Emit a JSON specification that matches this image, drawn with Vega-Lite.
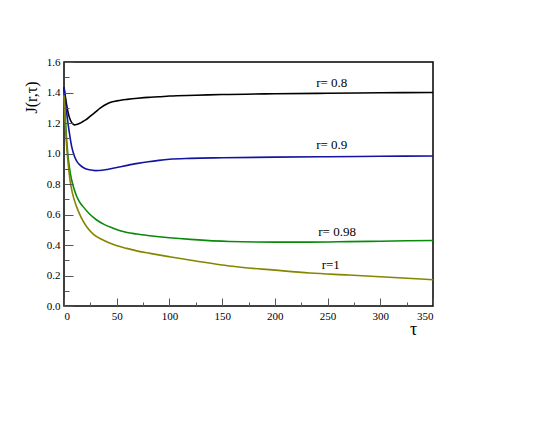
{
  "$schema": "https://vega.github.io/schema/vega-lite/v6.json",
  "width": 369,
  "height": 244,
  "autosize": {"type": "none"},
  "padding": {"left": 64, "top": 62, "right": 121, "bottom": 125},
  "background": "white",
  "config": {
    "view": {"stroke": "black", "strokeWidth": 1.5, "fill": null},
    "font": "Times New Roman, Liberation Serif, serif"
  },
  "resolve": {"axis": {"x": "independent", "y": "independent"}},
  "layer": [
    {
      "data": {
        "values": [
          {"tau": 0, "J": 1.435, "r": "0.8"}, {"tau": 2, "J": 1.34, "r": "0.8"}, {"tau": 4, "J": 1.265, "r": "0.8"}, {"tau": 6, "J": 1.22, "r": "0.8"}, {"tau": 8, "J": 1.197, "r": "0.8"}, {"tau": 10, "J": 1.188, "r": "0.8"}, {"tau": 12, "J": 1.19, "r": "0.8"}, {"tau": 15, "J": 1.198, "r": "0.8"}, {"tau": 18, "J": 1.21, "r": "0.8"}, {"tau": 21, "J": 1.222, "r": "0.8"}, {"tau": 25, "J": 1.245, "r": "0.8"}, {"tau": 30, "J": 1.273, "r": "0.8"}, {"tau": 34, "J": 1.296, "r": "0.8"}, {"tau": 38, "J": 1.315, "r": "0.8"}, {"tau": 42, "J": 1.33, "r": "0.8"}, {"tau": 46, "J": 1.339, "r": "0.8"}, {"tau": 50, "J": 1.345, "r": "0.8"}, {"tau": 55, "J": 1.351, "r": "0.8"}, {"tau": 60, "J": 1.355, "r": "0.8"}, {"tau": 70, "J": 1.362, "r": "0.8"}, {"tau": 80, "J": 1.368, "r": "0.8"}, {"tau": 90, "J": 1.372, "r": "0.8"}, {"tau": 100, "J": 1.377, "r": "0.8"}, {"tau": 125, "J": 1.382, "r": "0.8"}, {"tau": 150, "J": 1.387, "r": "0.8"}, {"tau": 200, "J": 1.392, "r": "0.8"}, {"tau": 250, "J": 1.395, "r": "0.8"}, {"tau": 300, "J": 1.398, "r": "0.8"}, {"tau": 350, "J": 1.4, "r": "0.8"},
          {"tau": 0, "J": 1.435, "r": "0.9"}, {"tau": 1.5, "J": 1.34, "r": "0.9"}, {"tau": 3, "J": 1.24, "r": "0.9"}, {"tau": 5, "J": 1.14, "r": "0.9"}, {"tau": 7.3, "J": 1.045, "r": "0.9"}, {"tau": 10, "J": 0.98, "r": "0.9"}, {"tau": 12.5, "J": 0.945, "r": "0.9"}, {"tau": 15, "J": 0.925, "r": "0.9"}, {"tau": 19, "J": 0.905, "r": "0.9"}, {"tau": 24, "J": 0.893, "r": "0.9"}, {"tau": 30, "J": 0.888, "r": "0.9"}, {"tau": 36, "J": 0.89, "r": "0.9"}, {"tau": 42, "J": 0.897, "r": "0.9"}, {"tau": 50, "J": 0.908, "r": "0.9"}, {"tau": 60, "J": 0.922, "r": "0.9"}, {"tau": 70, "J": 0.935, "r": "0.9"}, {"tau": 80, "J": 0.946, "r": "0.9"}, {"tau": 90, "J": 0.955, "r": "0.9"}, {"tau": 100, "J": 0.962, "r": "0.9"}, {"tau": 120, "J": 0.968, "r": "0.9"}, {"tau": 150, "J": 0.972, "r": "0.9"}, {"tau": 200, "J": 0.976, "r": "0.9"}, {"tau": 250, "J": 0.979, "r": "0.9"}, {"tau": 300, "J": 0.982, "r": "0.9"}, {"tau": 350, "J": 0.984, "r": "0.9"},
          {"tau": 0, "J": 1.385, "r": "0.98"}, {"tau": 2, "J": 1.14, "r": "0.98"}, {"tau": 4, "J": 0.97, "r": "0.98"}, {"tau": 6, "J": 0.87, "r": "0.98"}, {"tau": 9, "J": 0.78, "r": "0.98"}, {"tau": 12, "J": 0.72, "r": "0.98"}, {"tau": 15, "J": 0.68, "r": "0.98"}, {"tau": 18.3, "J": 0.65, "r": "0.98"}, {"tau": 24, "J": 0.605, "r": "0.98"}, {"tau": 31, "J": 0.564, "r": "0.98"}, {"tau": 38, "J": 0.535, "r": "0.98"}, {"tau": 46.8, "J": 0.51, "r": "0.98"}, {"tau": 55, "J": 0.49, "r": "0.98"}, {"tau": 69, "J": 0.472, "r": "0.98"}, {"tau": 81.6, "J": 0.461, "r": "0.98"}, {"tau": 100, "J": 0.448, "r": "0.98"}, {"tau": 120, "J": 0.437, "r": "0.98"}, {"tau": 157, "J": 0.423, "r": "0.98"}, {"tau": 200, "J": 0.419, "r": "0.98"}, {"tau": 233, "J": 0.419, "r": "0.98"}, {"tau": 270, "J": 0.422, "r": "0.98"}, {"tau": 300, "J": 0.425, "r": "0.98"}, {"tau": 350, "J": 0.43, "r": "0.98"},
          {"tau": 0, "J": 1.38, "r": "1"}, {"tau": 2, "J": 1.1, "r": "1"}, {"tau": 4, "J": 0.93, "r": "1"}, {"tau": 5.7, "J": 0.826, "r": "1"}, {"tau": 8, "J": 0.74, "r": "1"}, {"tau": 12, "J": 0.65, "r": "1"}, {"tau": 16, "J": 0.585, "r": "1"}, {"tau": 21.5, "J": 0.52, "r": "1"}, {"tau": 28, "J": 0.47, "r": "1"}, {"tau": 37, "J": 0.433, "r": "1"}, {"tau": 47, "J": 0.403, "r": "1"}, {"tau": 59.5, "J": 0.378, "r": "1"}, {"tau": 70, "J": 0.36, "r": "1"}, {"tau": 81.6, "J": 0.345, "r": "1"}, {"tau": 100, "J": 0.323, "r": "1"}, {"tau": 125, "J": 0.295, "r": "1"}, {"tau": 157, "J": 0.262, "r": "1"}, {"tau": 200, "J": 0.235, "r": "1"}, {"tau": 233, "J": 0.216, "r": "1"}, {"tau": 270, "J": 0.203, "r": "1"}, {"tau": 300, "J": 0.192, "r": "1"}, {"tau": 350, "J": 0.172, "r": "1"}
        ]
      },
      "mark": {"type": "line", "strokeWidth": 1.6, "interpolate": "monotone"},
      "encoding": {
        "x": {
          "field": "tau", "type": "quantitative",
          "scale": {"domain": [0, 350], "nice": false},
          "axis": {
            "orient": "bottom",
            "zindex": 1,
            "values": [0, 50, 100, 150, 200, 250, 300, 350],
            "labelOverlap": false,
            "labelFontSize": 11,
            "labelColor": "black",
            "labelPadding": 12,
            "tickSize": -8,
            "tickColor": "#555",
            "domain": false,
            "grid": false,
            "title": "τ",
            "titleFontSize": 18,
            "titleFontWeight": "normal",
            "titleX": 349,
            "titleY": 14,
            "titleAlign": "center",
            "titleBaseline": "top"
          }
        },
        "y": {
          "field": "J", "type": "quantitative",
          "scale": {"domain": [0, 1.6], "nice": false},
          "axis": {
            "orient": "left",
            "zindex": 1,
            "values": [0, 0.2, 0.4, 0.6, 0.8, 1.0, 1.2, 1.4, 1.6],
            "format": ".1f",
            "labelOverlap": false,
            "labelFontSize": 11,
            "labelColor": "black",
            "labelPadding": 13,
            "tickSize": -9,
            "tickColor": "#555",
            "domain": false,
            "grid": false,
            "title": "J(r,τ)",
            "titleFontSize": 16,
            "titleFontWeight": "normal",
            "titleX": -33,
            "titleY": 35,
            "titleAlign": "center",
            "titleBaseline": "middle"
          }
        },
        "color": {
          "field": "r", "type": "nominal",
          "scale": {"domain": ["0.8", "0.9", "0.98", "1"], "range": ["#000000", "#1414a0", "#0a8a0a", "#858500"]},
          "legend": null
        }
      }
    },
    {
      "data": {
        "values": [
          {"tau": 254, "J": 1.46, "label": "r= 0.8"},
          {"tau": 254, "J": 1.056, "label": "r= 0.9"},
          {"tau": 259, "J": 0.487, "label": "r= 0.98"},
          {"tau": 253, "J": 0.269, "label": "r=1"}
        ]
      },
      "mark": {"type": "text", "fontSize": 13, "baseline": "middle", "align": "center", "color": "black"},
      "encoding": {
        "x": {
          "field": "tau", "type": "quantitative",
          "axis": {
            "orient": "bottom",
            "zindex": 1,
            "values": [25, 75, 125, 175, 225, 275, 325],
            "labels": false,
            "tickSize": -4,
            "tickColor": "#555",
            "domain": false,
            "grid": false,
            "title": null
          }
        },
        "y": {
          "field": "J", "type": "quantitative",
          "axis": {
            "orient": "left",
            "zindex": 1,
            "values": [0.1, 0.3, 0.5, 0.7, 0.9, 1.1, 1.3, 1.5],
            "labels": false,
            "tickSize": -5,
            "tickColor": "#555",
            "domain": false,
            "grid": false,
            "title": null
          }
        },
        "text": {"field": "label"}
      }
    }
  ]
}
